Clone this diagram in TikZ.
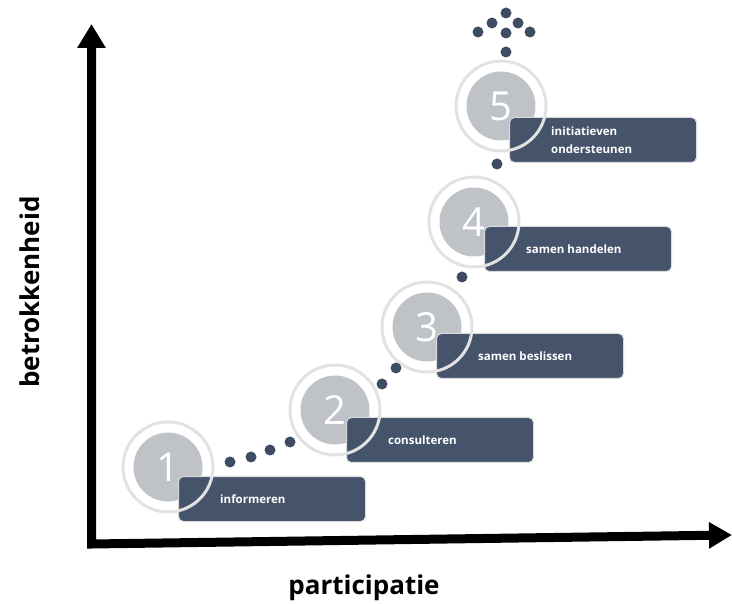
\documentclass[tikz,border=0pt]{standalone}
\usepackage{fontspec}
\setmainfont{Open Sans}
\usetikzlibrary{arrows.meta}
\definecolor{navy}{HTML}{45536B}
\definecolor{dotnavy}{HTML}{3F4D64}
\definecolor{circgray}{HTML}{BFC3C8}
\definecolor{ringgray}{HTML}{E2E2E2}
\definecolor{boxedge}{HTML}{D8DADD}
\begin{document}
\begin{tikzpicture}[x=1pt,y=-1pt,
  disc/.style={circle, fill=circgray, minimum size=69pt, inner sep=0pt, text=white, font=\fontsize{40}{40}\selectfont},
  ring/.style={circle, draw=ringgray, line width=3pt, minimum size=90pt, inner sep=0pt},
  stepbox/.style={rectangle, rounded corners=5pt, fill=navy, draw=boxedge, line width=1pt, minimum width=187pt, minimum height=45pt, anchor=north west},
  boxtext/.style={anchor=west, text=white, font=\bfseries\fontsize{11.5}{17.5}\selectfont, align=left, inner sep=0pt},
  dot/.style={circle, fill=dotnavy, minimum size=11pt, inner sep=0pt},
  axis/.style={line width=9pt, line join=miter, {Triangle[length=24pt,width=27pt]}-{Triangle[length=23pt,width=25pt]}},
  axlabel/.style={font=\bfseries\fontsize{26}{26}\selectfont, text=black}
]
\useasboundingbox (0,0) rectangle (732,604);

% axes
\coordinate (ytop) at (91.5,24);
\coordinate (origin) at (91.5,544);
\coordinate (xend) at (732,535);
\draw[axis] (ytop) -- (origin) -- (xend);
\node[axlabel, rotate=90] (ylab) at (30,292) {betrokkenheid};
\node[axlabel] (xlab) at (364,588) {participatie};

% discs
\node[disc] (c1) at (168,467) {1};
\node[disc] (c2) at (335,410) {2};
\node[disc] (c3) at (427,327) {3};
\node[disc] (c4) at (474,222) {4};
\node[disc] (c5) at (501,106) {5};

% boxes
\node[stepbox] (b1) at (178,476) {};
\node[stepbox] (b2) at (346,417) {};
\node[stepbox] (b3) at (436,333) {};
\node[stepbox] (b4) at (484,226) {};
\node[stepbox] (b5) at (509,117) {};

% rings
\foreach \i in {1,...,5} { \node[ring] (r\i) at (c\i) {}; }

% texts
\node[boxtext] (t1) at ([xshift=42pt]b1.west) {informeren};
\node[boxtext] (t2) at ([xshift=42pt]b2.west) {consulteren};
\node[boxtext] (t3) at ([xshift=42pt]b3.west) {samen beslissen};
\node[boxtext] (t4) at ([xshift=42pt]b4.west) {samen handelen};
\node[boxtext] (t5) at ([xshift=42pt]b5.west) {initiatieven\\ondersteunen};

% dots
\node[dot] (d1) at (230,462) {};
\node[dot] (d2) at (251,457) {};
\node[dot] (d3) at (270,450) {};
\node[dot] (d4) at (290,442) {};
\node[dot] (d5) at (382,384) {};
\node[dot] (d6) at (396,368) {};
\node[dot] (d7) at (462,277) {};
\node[dot] (d8) at (497,164) {};
\node[dot] (d9) at (506,52) {};
\node[dot] (a1) at (506,13) {};
\node[dot] (a2) at (492,23) {};
\node[dot] (a3) at (518,23) {};
\node[dot] (a4) at (478,32) {};
\node[dot] (a5) at (506,33) {};
\node[dot] (a6) at (530,32) {};
\end{tikzpicture}
\end{document}
